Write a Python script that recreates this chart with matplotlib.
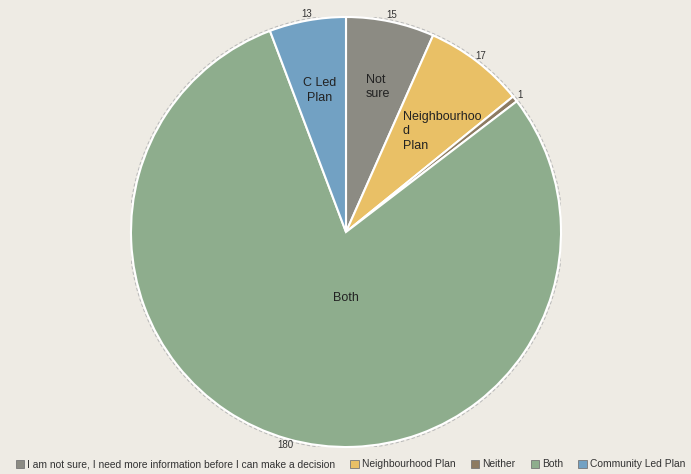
import numpy as np
import matplotlib.pyplot as plt
from matplotlib.patches import Patch, Circle

plt.rcParams.update({
    'font.family': 'Liberation Sans',
})
BG = '#EEEBE4'

# data, clockwise from 12 o'clock
categories = ['I am not sure, I need more information before I can make a decision',
              'Neighbourhood Plan', 'Neither', 'Both', 'Community Led Plan']
inner_names = ['Not\nsure', 'Neighbourhoo\nd\nPlan', '', 'Both', 'C Led\nPlan']
values = [15, 17, 1, 180, 13]
colors = ['#8C8B83', '#E9C066', '#8D7B62', '#8EAD8D', '#72A1C3']

fig = plt.figure(figsize=(6.91, 4.74), dpi=100, facecolor=BG)
cx, cy, r = 346, 232, 215
ax = fig.add_axes([(cx - r) / 691, (474 - cy - r) / 474, 2 * r / 691, 2 * r / 474])
ax.set_facecolor(BG)

wedges, texts = ax.pie(values, colors=colors, startangle=90, counterclock=False,
                       labels=[str(v) for v in values], labeldistance=1.03,
                       wedgeprops=dict(edgecolor='white', linewidth=1.5),
                       textprops=dict(fontsize=7, color='#333333'))
for t in texts:
    t.set_ha('center')
    t.set_va('center')

# subtle dashed outline around the pie
ax.add_patch(Circle((0, 0), 1.008, fill=False, ls=(0, (3, 2)), lw=0.8,
                    ec='#BBBBBB', zorder=0))

# inner category names
radii = [0.69, 0.59, 0.6, 0.32, 0.67]
aligns = ['left', 'left', 'center', 'center', 'center']
for w, name, rr, ha in zip(wedges, inner_names, radii, aligns):
    if not name:
        continue
    ang = np.deg2rad((w.theta1 + w.theta2) / 2)
    x, y = rr * np.cos(ang), rr * np.sin(ang)
    if name == 'Both':
        x = 0
    if ha == 'left':
        x -= 0.05 if name.startswith('Not') else 0.095
    ax.text(x, y, name, ha=ha, va='center', fontsize=9, color='#222222',
            linespacing=1.3)

ax.set_xlim(-1, 1)
ax.set_ylim(-1, 1)
ax.set_aspect('equal')
ax.axis('off')

handles = [Patch(facecolor=c, edgecolor='#777777', linewidth=0.6) for c in colors]
fig.legend(handles, categories, loc='lower center', bbox_to_anchor=(0.507, -0.01),
           ncol=5, frameon=False, fontsize=7.4, handlelength=0.8, handleheight=0.8,
           handletextpad=0.3, columnspacing=1.5, labelcolor='#333333')

plt.savefig('out.png', dpi=100, facecolor=BG)
